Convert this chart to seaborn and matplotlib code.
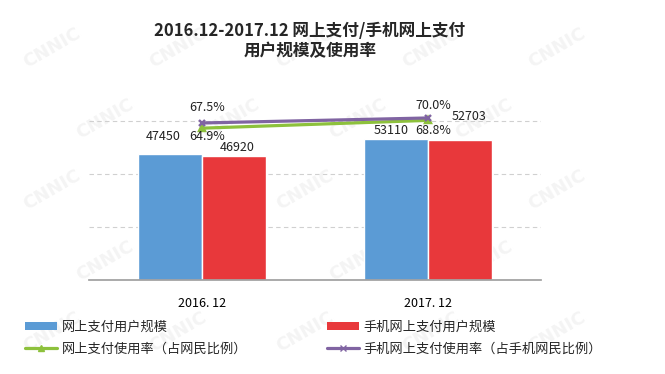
import matplotlib
matplotlib.use("Agg")
import matplotlib.pyplot as plt
import seaborn as sns
import pandas as pd
from matplotlib.patches import Patch
from matplotlib.lines import Line2D

sns.set_theme(style="white")
plt.rcParams['font.family'] = ['Noto Sans CJK SC', 'DejaVu Sans']
plt.rcParams['axes.unicode_minus'] = False

# --- data ---
periods = ['2016. 12', '2017. 12']
bar_series = ['网上支付用户规模', '手机网上支付用户规模']
pay_users = [47450, 53110]
mobile_pay_users = [46920, 52703]
line_series = ['网上支付使用率（占网民比例）', '手机网上支付使用率（占手机网民比例）']
pay_rate = [64.9, 68.8]
mobile_pay_rate = [67.5, 70.0]

bar_colors = ['#5B9BD5', '#E8383B']
line_colors = ['#8DC13C', '#8064A2']

bars_df = pd.DataFrame({
    'period': periods * 2,
    'series': [bar_series[0]] * 2 + [bar_series[1]] * 2,
    'value': pay_users + mobile_pay_users,
})
lines_df = pd.DataFrame({
    'period': periods * 2,
    'series': [line_series[0]] * 2 + [line_series[1]] * 2,
    'rate': pay_rate + mobile_pay_rate,
})

fig = plt.figure(figsize=(6.65, 3.74), dpi=100)
fig.patch.set_facecolor('white')

# faint CNNIC watermark, kept inside the figure
for row in range(5):
    for col in range(5):
        fx = 0.03 + col * 0.19 + (row % 2) * 0.08
        fy = 0.05 + row * 0.19
        if fx > 0.86:
            continue
        fig.text(fx, fy, 'CNNIC', fontsize=13, fontweight='bold', color='#f4f4f4',
                 rotation=30, ha='left', va='bottom', zorder=-5, family='DejaVu Sans')

ax = fig.add_axes([0.134, 0.2513, 0.6795, 0.567])
ax.patch.set_alpha(0)

sns.barplot(data=bars_df, x='period', y='value', hue='series', palette=bar_colors,
            saturation=1, width=0.57, edgecolor='white', linewidth=1, ax=ax,
            legend=False, zorder=2)
ax.set_xlim(-0.5, 1.5)
ax.set_ylim(0, 80000)
ax.set_yticks([20000, 40000, 60000])
ax.set_yticklabels([])
ax.yaxis.grid(True, linestyle=(0, (4, 3)), color='#d0d0d0', linewidth=0.8)
ax.set_axisbelow(True)
ax.set_xlabel('')
ax.set_ylabel('')
for s in ['left', 'right', 'top']:
    ax.spines[s].set_visible(False)
ax.spines['bottom'].set_color('#a0a0a0')
ax.tick_params(axis='y', length=0)
ax.tick_params(axis='x', which='major', length=0, labelsize=9, pad=12, colors='black')
ax.set_xticks([-0.5, 0.5, 1.5], minor=True)
ax.tick_params(axis='x', which='minor', length=4, color='#a0a0a0', direction='out')

# bar value labels (offsets in pixels)
bar_offsets = [(-7, 18), (-5, 9), (3, 8), (9, 24)]
for p, off in zip(ax.patches, bar_offsets):
    ax.annotate(f'{int(p.get_height())}', (p.get_x() + p.get_width() / 2, p.get_height()),
                xytext=off, textcoords='offset pixels', ha='center', va='center',
                fontsize=9, color='#222222')

ax2 = ax.twinx()
sns.pointplot(data=lines_df, x='period', y='rate', hue='series', palette=line_colors,
              markers=['^', 'x'], markersize=5, linewidth=2.3, ax=ax2, legend=False,
              errorbar=None)
ax2.set_xlim(-0.5, 1.5)
ax2.set_ylim(-11, 95)
ax2.set_yticks([])
ax2.set_ylabel('')
ax2.set_xlabel('')
for s in ['left', 'right', 'top', 'bottom']:
    ax2.spines[s].set_visible(False)

rate_offsets = {line_series[0]: [(5, -8), (5, -10)], line_series[1]: [(5, 15), (5, 12)]}
for name, vals in [(line_series[0], pay_rate), (line_series[1], mobile_pay_rate)]:
    for i, v in enumerate(vals):
        ax2.annotate(f'{v:.1f}%', (i, v), xytext=rate_offsets[name][i],
                     textcoords='offset pixels', ha='center', va='center',
                     fontsize=9, color='#222222')

fig.text(0.466, 0.89, '2016.12-2017.12 网上支付/手机网上支付\n用户规模及使用率',
         ha='center', va='center', fontsize=12, fontweight='bold', linespacing=1.1)

handles = [
    Patch(facecolor=bar_colors[0], edgecolor='none'),
    Line2D([], [], color=line_colors[0], marker='^', markersize=5, linewidth=2.3),
    Patch(facecolor=bar_colors[1], edgecolor='none'),
    Line2D([], [], color=line_colors[1], marker='x', markersize=5, linewidth=2.3),
]
labels = [bar_series[0], line_series[0], bar_series[1], line_series[1]]
fig.legend(handles, labels, ncol=2, loc='upper left', bbox_to_anchor=(0.03, 0.157),
           frameon=False, fontsize=9.5, handlelength=2.4, handleheight=0.6,
           columnspacing=6.0, handletextpad=0.4, labelspacing=0.7, borderaxespad=0)

fig.savefig('out.png', dpi=100)
